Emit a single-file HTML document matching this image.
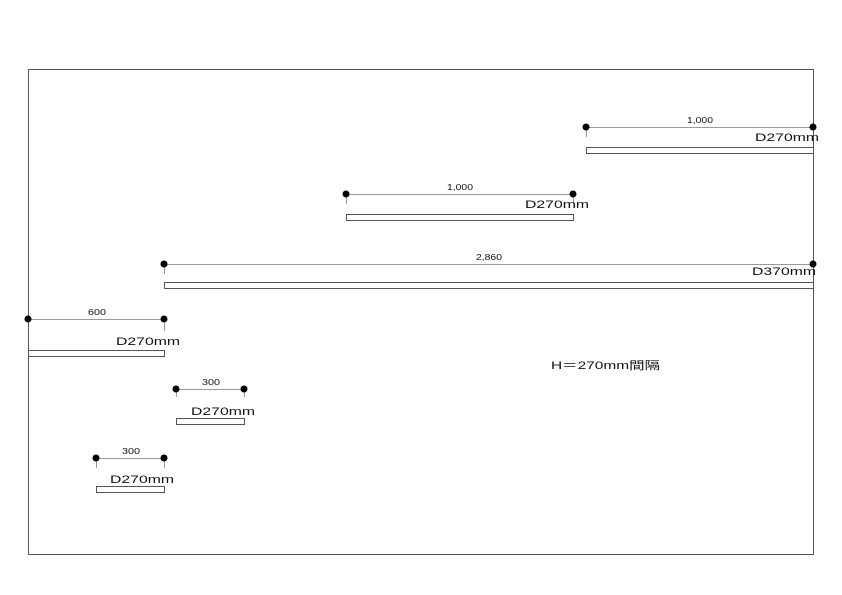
<!DOCTYPE html>
<html><head><meta charset="utf-8"><style>
html,body{margin:0;padding:0;background:#fff;width:842px;height:595px;overflow:hidden}
svg text{font-family:"Liberation Sans","Noto Sans CJK JP",sans-serif;fill:#111}
</style></head><body>
<svg width="842" height="595" xmlns="http://www.w3.org/2000/svg">
<rect x="28.5" y="69.5" width="785" height="485" fill="none" stroke="#555" stroke-width="1"/>
<g stroke="#999" stroke-width="1">
<line x1="586" y1="127.5" x2="813" y2="127.5"/><line x1="586.5" y1="127" x2="586.5" y2="137"/>
<line x1="346" y1="194.5" x2="573" y2="194.5"/><line x1="346.5" y1="194" x2="346.5" y2="204"/><line x1="573.5" y1="194" x2="573.5" y2="204"/>
<line x1="164" y1="264.5" x2="813" y2="264.5"/><line x1="164.5" y1="264" x2="164.5" y2="274"/>
<line x1="28" y1="319.5" x2="164" y2="319.5"/><line x1="164.5" y1="319" x2="164.5" y2="331"/>
<line x1="176" y1="389.5" x2="244" y2="389.5"/><line x1="176.5" y1="389" x2="176.5" y2="397"/><line x1="244.5" y1="389" x2="244.5" y2="397"/>
<line x1="96" y1="458.5" x2="164" y2="458.5"/><line x1="96.5" y1="458" x2="96.5" y2="468"/><line x1="164.5" y1="458" x2="164.5" y2="468"/>
</g>
<g fill="#000">
<circle cx="586" cy="127" r="3.5"/><circle cx="813" cy="127" r="3.5"/>
<circle cx="346" cy="194" r="3.5"/><circle cx="573" cy="194" r="3.5"/>
<circle cx="164" cy="264" r="3.5"/><circle cx="813" cy="264" r="3.5"/>
<circle cx="28" cy="319" r="3.5"/><circle cx="164" cy="319" r="3.5"/>
<circle cx="176" cy="389" r="3.5"/><circle cx="244" cy="389" r="3.5"/>
<circle cx="96" cy="458" r="3.5"/><circle cx="164" cy="458" r="3.5"/>
</g>
<g fill="#fff" stroke="#555" stroke-width="1">
<rect x="586.5" y="147.5" width="227" height="6"/>
<rect x="346.5" y="214.5" width="227" height="6"/>
<rect x="164.5" y="282.5" width="649" height="6"/>
<rect x="28.5" y="350.5" width="136" height="6"/>
<rect x="176.5" y="418.5" width="68" height="6"/>
<rect x="96.5" y="486.5" width="68" height="6"/>
</g>
<g font-size="8" lengthAdjust="spacingAndGlyphs">
<text x="687" y="123" textLength="26" lengthAdjust="spacingAndGlyphs">1,000</text>
<text x="447" y="190" textLength="26" lengthAdjust="spacingAndGlyphs">1,000</text>
<text x="476" y="260" textLength="26" lengthAdjust="spacingAndGlyphs">2,860</text>
<text x="88" y="315" textLength="18" lengthAdjust="spacingAndGlyphs">600</text>
<text x="202" y="385" textLength="18" lengthAdjust="spacingAndGlyphs">300</text>
<text x="122" y="454" textLength="18" lengthAdjust="spacingAndGlyphs">300</text>
</g>
<g font-size="11">
<text x="755" y="141" textLength="64" lengthAdjust="spacingAndGlyphs">D270mm</text>
<text x="525" y="208" textLength="64" lengthAdjust="spacingAndGlyphs">D270mm</text>
<text x="752" y="275" textLength="64" lengthAdjust="spacingAndGlyphs">D370mm</text>
<text x="116" y="345" textLength="64" lengthAdjust="spacingAndGlyphs">D270mm</text>
<text x="191" y="415" textLength="64" lengthAdjust="spacingAndGlyphs">D270mm</text>
<text x="110" y="483" textLength="64" lengthAdjust="spacingAndGlyphs">D270mm</text>
</g>
<text x="551" y="369" font-size="11" textLength="109" lengthAdjust="spacingAndGlyphs">H＝270mm間隔</text>
</svg>
</body></html>
